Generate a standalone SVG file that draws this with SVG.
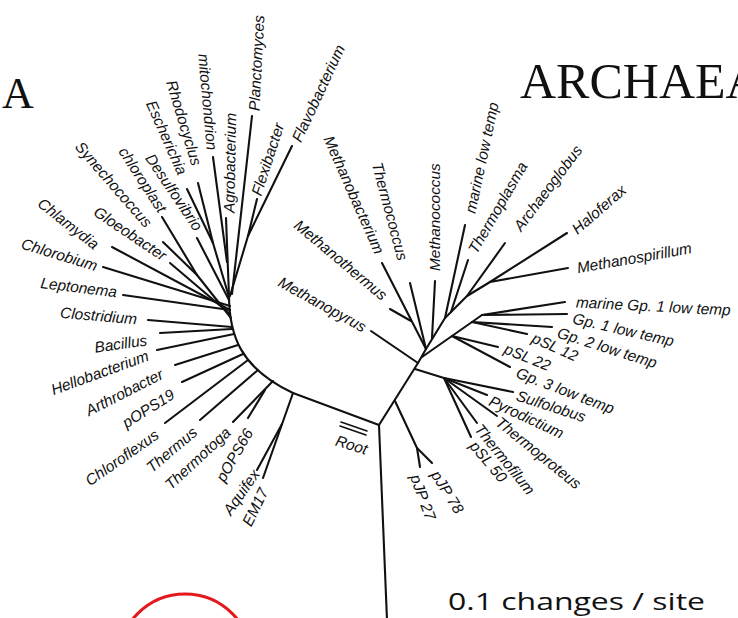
<svg xmlns="http://www.w3.org/2000/svg" width="738" height="618" viewBox="0 0 738 618">
<style>
.br path{fill:none;stroke:#111;stroke-width:2.1;stroke-linecap:round;stroke-linejoin:round}
.t{font-family:"Liberation Sans",Arial,sans-serif;font-style:italic;font-size:15.4px;fill:#111}
.e{text-anchor:end}
.big{font-family:"Liberation Serif","Times New Roman",serif;fill:#111}
</style>
<rect width="738" height="618" fill="#fff"/>
<g id="connectors" class="br">
<path d="M387,620 L379,425"/>
<path d="M379,425 L418,363"/>
<path d="M395,401 L417,448"/>
<path d="M417,448 L432,463"/>
<path d="M417,448 L420,467"/>
<path d="M418,363 L371,331"/>
<path d="M418,363 L426,349"/>
<path d="M415,369 L444,378"/>
<path d="M444,378 L513,392"/>
<path d="M444,378 L487,395"/>
<path d="M444,378 L497,416"/>
<path d="M444,378 L477,423"/>
<path d="M444,378 L471,437"/>
<path d="M426,349 L382,263"/>
<path d="M390,309 L411,321"/>
<path d="M426,349 L410,283"/>
<path d="M432,338 L435,281"/>
<path d="M426,349 L445,318 L467,296 L490,282"/>
<path d="M445,318 L465,225"/>
<path d="M451,312 L468,260"/>
<path d="M467,296 L505,243"/>
<path d="M490,282 L567,233"/>
<path d="M490,282 L568,268"/>
<path d="M422,357 L482,315"/>
<path d="M452,336 L510,367"/>
<path d="M452,336 L498,347"/>
<path d="M472,322 L527,334"/>
<path d="M472,322 L552,327"/>
<path d="M482,315 L565,302"/>
<path d="M482,315 L567,314"/>
<path d="M341,422 L367,431" style="stroke-width:1.6"/>
<path d="M340,426 L366,435" style="stroke-width:1.6"/>
<path d="M229,295 C229,335 240,368 293,393 L379,425"/>
<path d="M292,146 L248,236"/>
<path d="M257,199 L248,236"/>
<path d="M248,236 L230,296"/>
<path d="M252,116 L232,294"/>
<path d="M226,218 L229,296"/>
<path d="M213,157 L227,262"/>
<path d="M198,183 L213,243"/>
<path d="M187,189 L213,243"/>
<path d="M213,243 L229,297"/>
<path d="M197,238 L229,300"/>
<path d="M162,217 L197,275"/>
<path d="M163,242 L197,275"/>
<path d="M197,275 L231,318"/>
<path d="M170,263 L230,314"/>
<path d="M112,247 L230,310"/>
<path d="M103,267 L230,306"/>
<path d="M123,295 L230,310"/>
<path d="M148,320 L232,327"/>
<path d="M160,333 L232,329"/>
<path d="M157,350 L234,334"/>
<path d="M175,365 L238,345"/>
<path d="M182,382 L243,354"/>
<path d="M165,423 L248,360"/>
<path d="M200,420 L258,370"/>
<path d="M233,422 L273,381"/>
<path d="M248,418 L265,390"/>
<path d="M263,478 L293,393"/>
<path d="M257,470 L282,424"/>
</g>
<g id="titles">
<text class="big" x="2" y="108" font-size="44">A</text>
<text class="big" x="520" y="98" font-size="50">ARCHAEA</text>
<text x="448" y="610" font-family="'Open Sans','Liberation Sans',sans-serif" font-size="24" fill="#111" textLength="257" lengthAdjust="spacingAndGlyphs">0.1 changes / site</text>
<circle cx="185" cy="661" r="67" fill="none" stroke="#e3191c" stroke-width="3"/>
</g>
<g id="bacteria" class="t">
<g id="n-leptonema"><text class="e" transform="translate(117,292) rotate(7)" dy="0.35em">Leptonema</text></g>
<g id="n-chlorobium"><text class="e" transform="translate(97,266) rotate(17)" dy="0.35em">Chlorobium</text></g>
<g id="n-chlamydia"><text class="e" transform="translate(97,246) rotate(38)" dy="0.35em">Chlamydia</text></g>
<g id="n-gloeobacter"><text class="e" transform="translate(165,257) rotate(34)" dy="0.35em">Gloeobacter</text></g>
<g id="n-synechococcus"><text class="e" transform="translate(149,225) rotate(49)" dy="0.35em">Synechococcus</text></g>
<g id="n-chloroplast"><text class="e" transform="translate(163,211) rotate(57)" dy="0.35em">chloroplast</text></g>
<g id="n-desulfovibrio"><text class="e" transform="translate(199,229) rotate(56)" dy="0.35em">Desulfovibrio</text></g>
<g id="n-escherichia"><text class="e" transform="translate(183,174) rotate(66)" dy="0.35em">Escherichia</text></g>
<g id="n-rhodocyclus"><text class="e" transform="translate(197,165) rotate(73)" dy="0.35em">Rhodocyclus</text></g>
<g id="n-mitochondrion"><text class="e" transform="translate(212,150) rotate(85)" dy="0.35em">mitochondrion</text></g>
<g id="n-agrobacterium"><text transform="translate(229,213) rotate(-89)" dy="0.35em">Agrobacterium</text></g>
<g id="n-planctomyces"><text transform="translate(254,111) rotate(-87)" dy="0.35em">Planctomyces</text></g>
<g id="n-flexibacter"><text transform="translate(256,195) rotate(-72)" dy="0.35em">Flexibacter</text></g>
<g id="n-flavobacterium"><text transform="translate(296,141) rotate(-65)" dy="0.35em">Flavobacterium</text></g>
<g id="n-clostridium"><text class="e" transform="translate(137,319) rotate(5)" dy="0.35em">Clostridium</text></g>
<g id="n-bacillus"><text class="e" transform="translate(147,340) rotate(-8)" dy="0.35em">Bacillus</text></g>
<g id="n-hellobacterium"><text class="e" transform="translate(148,355) rotate(-20)" dy="0.35em">Hellobacterium</text></g>
<g id="n-arthrobacter"><text class="e" transform="translate(162,373) rotate(-27)" dy="0.35em">Arthrobacter</text></g>
<g id="n-pops19"><text class="e" transform="translate(173,393) rotate(-32)" dy="0.35em">pOPS19</text></g>
<g id="n-chloroflexus"><text class="e" transform="translate(157,433) rotate(-35)" dy="0.35em">Chloroflexus</text></g>
<g id="n-thermus"><text class="e" transform="translate(195,430) rotate(-40)" dy="0.35em">Thermus</text></g>
<g id="n-thermotoga"><text class="e" transform="translate(228,430) rotate(-43)" dy="0.35em">Thermotoga</text></g>
<g id="n-pops66"><text class="e" transform="translate(249,430) rotate(-60)" dy="0.35em">pOPS66</text></g>
<g id="n-aquifex"><text class="e" transform="translate(256,471) rotate(-55)" dy="0.35em">Aquifex</text></g>
<g id="n-em17"><text class="e" transform="translate(264,489) rotate(-64)" dy="0.35em">EM17</text></g>
</g>
<g id="archaea" class="t">
<g id="n-methanobacterium"><text class="e" transform="translate(380,253) rotate(66)" dy="0.35em">Methanobacterium</text></g>
<g id="n-thermococcus"><text class="e" transform="translate(403,260) rotate(75)" dy="0.35em">Thermococcus</text></g>
<g id="n-methanothermus"><text class="e" transform="translate(385,297) rotate(40)" dy="0.35em">Methanothermus</text></g>
<g id="n-methanopyrus"><text class="e" transform="translate(365,328) rotate(29)" dy="0.35em">Methanopyrus</text></g>
<g id="n-methanococcus"><text transform="translate(435,271) rotate(-90)" dy="0.35em">Methanococcus</text></g>
<g id="n-marinelow"><text transform="translate(470,213) rotate(-78)" dy="0.35em">marine low temp</text></g>
<g id="n-thermoplasma"><text transform="translate(472,252) rotate(-60)" dy="0.35em">Thermoplasma</text></g>
<g id="n-archaeoglobus"><text transform="translate(517,229) rotate(-53)" dy="0.35em">Archaeoglobus</text></g>
<g id="n-haloferax"><text transform="translate(574,231) rotate(-41)" dy="0.35em">Haloferax</text></g>
<g id="n-methanospirillum"><text transform="translate(577,268) rotate(-10)" dy="0.35em">Methanospirillum</text></g>
<g id="n-marinegp1"><text transform="translate(576,302) rotate(3)" dy="0.35em">marine Gp. 1 low temp</text></g>
<g id="n-gp1"><text transform="translate(573,318) rotate(13)" dy="0.35em">Gp. 1 low temp</text></g>
<g id="n-gp2"><text transform="translate(558,332) rotate(17.6)" dy="0.35em">Gp. 2 low temp</text></g>
<g id="n-psl12"><text transform="translate(533,337) rotate(24)" dy="0.35em">pSL 12</text></g>
<g id="n-psl22"><text transform="translate(505,348) rotate(22)" dy="0.35em">pSL 22</text></g>
<g id="n-gp3"><text transform="translate(517,372) rotate(21)" dy="0.35em">Gp. 3 low temp</text></g>
<g id="n-sulfolobus"><text transform="translate(517,395) rotate(18)" dy="0.35em">Sulfolobus</text></g>
<g id="n-pyrodictium"><text transform="translate(490,400) rotate(25)" dy="0.35em">Pyrodictium</text></g>
<g id="n-thermoproteus"><text transform="translate(498,420) rotate(39)" dy="0.35em">Thermoproteus</text></g>
<g id="n-thermofilum"><text transform="translate(478,426) rotate(51)" dy="0.35em">Thermofilum</text></g>
<g id="n-psl50"><text transform="translate(473,443) rotate(50)" dy="0.35em">pSL 50</text></g>
<g id="n-pjp78"><text transform="translate(435,472) rotate(58)" dy="0.35em">pJP 78</text></g>
<g id="n-pjp27"><text transform="translate(415,475) rotate(70)" dy="0.35em">pJP 27</text></g>
<g id="n-root"><text transform="translate(336,440) rotate(17)" dy="0.35em">Root</text></g>
</g>
</svg>
